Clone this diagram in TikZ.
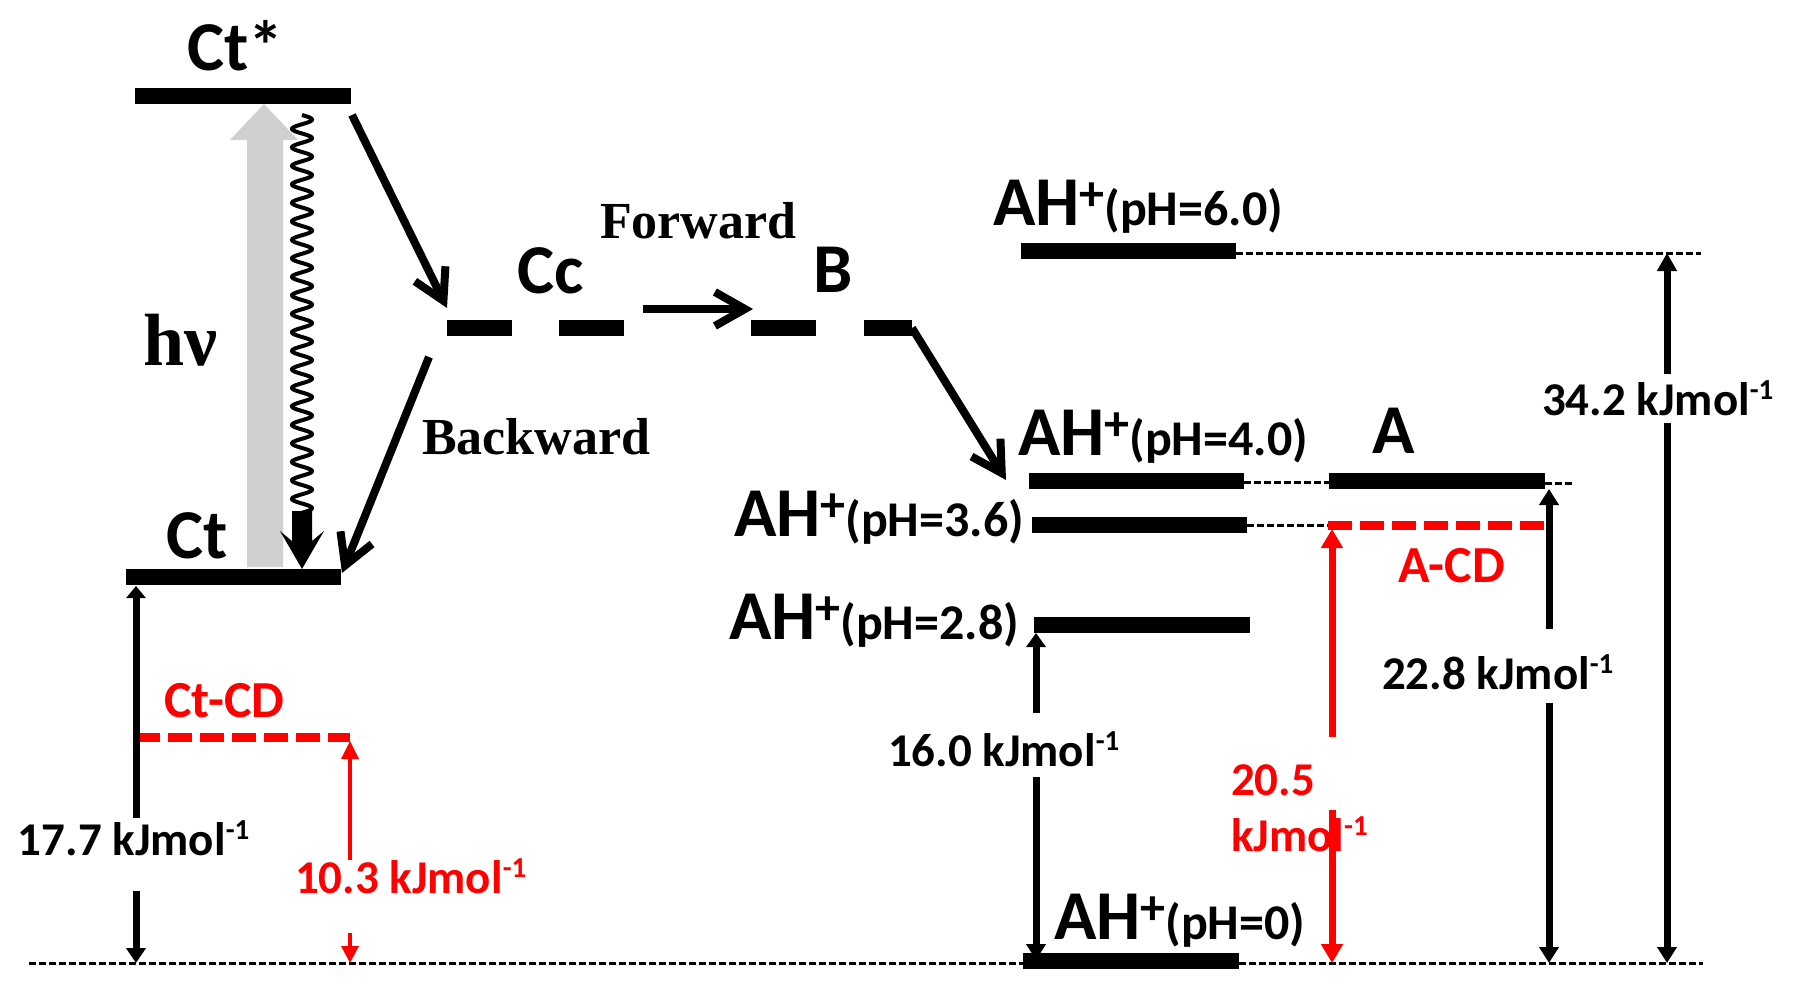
\documentclass[tikz,border=0pt]{standalone}
\usepackage{fontspec}
\setmainfont{Carlito}
\newfontfamily\tnr{Liberation Serif}
\usetikzlibrary{arrows.meta}
\definecolor{lg}{RGB}{208,208,208}
\definecolor{rd}{RGB}{255,0,0}
\newcommand\ahl[1]{{\fontsize{35}{40}\selectfont AH}\raisebox{7.5pt}{\fontsize{25}{28}\selectfont +}{\fontsize{25}{28}\selectfont(pH=#1)}}
\newcommand\kjm{kJmol\raisebox{8pt}{\fontsize{14.5}{17}\selectfont -1}}
\begin{document}
\begin{tikzpicture}[x=0.5pt,y=-0.5pt,font=\bfseries,
  every node/.style={inner sep=0pt,outer sep=0pt},
  bar/.style={line width=8pt},
  thindash/.style={line width=1.5pt,dash pattern=on 3.5pt off 1.5pt},
  reddash/.style={rd,line width=4.5pt,dash pattern=on 12pt off 4pt},
  dim/.style={line width=3.5pt},
  flow/.style={line width=4pt,-{Straight Barb[length=15pt,width=17pt]}},
  big/.style={font=\bfseries\fontsize{35}{40}\selectfont,anchor=base west},
  lab/.style={font=\bfseries\fontsize{23.5}{28}\selectfont,anchor=base west},
  cd/.style={text=rd,font=\bfseries\fontsize{26}{30}\selectfont,anchor=base west},
  serif/.style={font=\tnr\bfseries\fontsize{26}{30}\selectfont,anchor=base west}]
\path[use as bounding box] (0,0) rectangle (1798,990);

% thin dashed reference lines
\draw[thindash] (29,963) coordinate (base1) -- (1703,963) coordinate (base2);
\draw[thindash] (1236,253) -- (1701,253);
\draw[thindash] (1244,482) -- (1329,482);
\draw[thindash] (1545,483) -- (1575,483);
\draw[thindash] (1247,525) -- (1328,525);

% light arrow (absorption)
\fill[lg] (247,567) -- (247,140) -- (230,140) -- (264,104) -- (298,140) -- (283,140) -- (283,567) -- cycle;
% wavy relaxation
\draw[line width=2pt] plot[domain=0:398,samples=700] ({302+10*sin(\x*19.459)},{115+\x});
\fill (280,531) -- (302,569) -- (324,531) -- (312,541) -- (312,511) -- (292,511) -- (292,541) -- cycle;

% energy levels
\draw[bar] (135,96) coordinate (cts1) -- (351,96) coordinate (cts2);
\draw[bar] (126,577) coordinate (ct1) -- (341,577) coordinate (ct2);
\draw[bar] (447,328) -- (512,328);
\draw[bar] (559,328) -- (624,328);
\draw[bar] (751,328) -- (816,328);
\draw[bar] (864,328) -- (912,328);
\draw[bar] (1021,251) -- (1236,251);
\draw[bar] (1029,481) -- (1244,481);
\draw[bar] (1329,481) -- (1545,481);
\draw[bar] (1032,525) -- (1247,525);
\draw[bar] (1034,625) -- (1250,625);
\draw[bar] (1023,961) -- (1239,961);

% CD levels
\draw[reddash] (136,737) -- (350,737);
\draw[reddash] (1328,525) -- (1544,525);

% dimension arrows
\draw[dim,{Triangle[length=6pt,width=9.5pt]}-] (136,586) -- (136,818);
\draw[dim,-{Triangle[length=7.5pt,width=9.5pt]}] (136,891) -- (136,963);
\draw[dim,{Triangle[length=7pt,width=9.5pt]}-] (1036,633) -- (1036,713);
\draw[dim,-{Triangle[length=8pt,width=9.5pt]}] (1036,777) -- (1036,960);
\draw[dim,{Triangle[length=8pt,width=9.5pt]}-] (1549,489) -- (1549,629);
\draw[dim,-{Triangle[length=8pt,width=9.5pt]}] (1549,703) -- (1549,963);
\draw[dim,{Triangle[length=9pt,width=9.5pt]}-] (1667,253) -- (1667,374);
\draw[dim,-{Triangle[length=8pt,width=9.5pt]}] (1667,423) -- (1667,963);
\draw[rd,line width=1.75pt,{Triangle[length=9pt,width=8.5pt]}-] (350,741) -- (350,860);
\draw[rd,line width=1.75pt,-{Triangle[length=8.5pt,width=8.5pt]}] (350,933) -- (350,963);
\draw[rd,line width=3.5pt,{Triangle[length=9.5pt,width=10.5pt]}-] (1332,529) -- (1332,737);
\draw[rd,line width=3.5pt,-{Triangle[length=9.5pt,width=10.5pt]}] (1332,810) -- (1332,963);

% reaction arrows
\draw[flow] (352,115) -- (447,308);
\draw[flow] (429,357) -- (342,573);
\draw[flow] (643,309) -- (753,309);
\draw[flow] (912,328) -- (1006,480);

% labels
\node[big] (ctstar) at (187,71) {Ct*};
\node[big] (ct) at (166,558) {Ct};
\node[anchor=base west,font=\tnr\bfseries\fontsize{37}{44}\selectfont] (hnu) at (143,365) {hν};
\node[big] (cc) at (517,293) {Cc};
\node[big] (b) at (813,292) {B};
\node[serif] (fwd) at (600,238) {Forward};
\node[serif] (bwd) at (422,454) {Backward};
\node[anchor=base west] (ah6) at (993,225) {\ahl{6.0}};
\node[anchor=base west] (ah4) at (1018,455) {\ahl{4.0}};
\node[anchor=base west] (ah36) at (734,536) {\ahl{3.6}};
\node[anchor=base west] (ah28) at (729,639) {\ahl{2.8}};
\node[anchor=base west] (ah0) at (1054,939) {\ahl{0}};
\node[big] (a) at (1372,453) {A};
\node[cd] (ctcd) at (164,717) {Ct-CD};
\node[cd] (acd) at (1398,582) {A-CD};
\node[lab] (e177) at (18,855) {17.7 \kjm};
\node[lab,text=rd] (e103) at (295,893) {10.3 \kjm};
\node[lab] (e160) at (888,766) {16.0 \kjm};
\node[lab] (e228) at (1382,689) {22.8 \kjm};
\node[lab] (e342) at (1542,415) {34.2 \kjm};
\node[lab,text=rd] (e205) at (1231,795) {20.5};
\node[lab,text=rd] (e205b) at (1231,851) {\kjm};
\end{tikzpicture}
\end{document}
